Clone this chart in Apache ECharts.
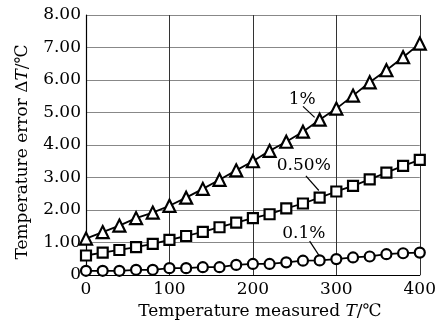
<!DOCTYPE html>
<html>
<head>
<meta charset="utf-8">
<script src="https://cdn.jsdelivr.net/npm/echarts@6/dist/echarts.min.js"></script>
<style>
  html, body { margin: 0; padding: 0; background: #fff; }
  #chart { width: 439px; height: 325px; }
</style>
</head>
<body>
<div id="chart"></div>
<script>
var temps = [0, 20, 40, 60, 80, 100, 120, 140, 160, 180, 200, 220, 240, 260, 280, 300, 320, 340, 360, 380, 400];
var err1 = [1.12, 1.32, 1.52, 1.75, 1.92, 2.13, 2.38, 2.65, 2.93, 3.22, 3.50, 3.82, 4.10, 4.41, 4.78, 5.12, 5.52, 5.93, 6.30, 6.70, 7.12];
var err05 = [0.60, 0.69, 0.77, 0.86, 0.96, 1.08, 1.20, 1.33, 1.47, 1.61, 1.75, 1.87, 2.05, 2.20, 2.38, 2.57, 2.74, 2.94, 3.15, 3.36, 3.54];
var err01 = [0.13, 0.13, 0.13, 0.16, 0.16, 0.21, 0.21, 0.24, 0.24, 0.31, 0.34, 0.34, 0.39, 0.44, 0.45, 0.49, 0.54, 0.57, 0.64, 0.67, 0.69];

// labels with leader lines, in data coordinates
var notes = [
  { text: '1%', at: [259, 5.40], from: [260, 5.19], to: [274, 4.85] },
  { text: '0.50%', at: [261, 3.36], from: [263.5, 3.05], to: [279, 2.60] },
  { text: '0.1%', at: [261, 1.28], from: [268, 1.04], to: [279, 0.61] }
];

var font = 'DejaVu Serif, serif';
var fs = 17;

function pairs(ys) {
  return temps.map(function (t, i) { return [t, ys[i]]; });
}

function lineSeries(name, ys, symbol, size) {
  return {
    name: name,
    type: 'line',
    data: pairs(ys),
    symbol: symbol,
    symbolSize: size,
    showAllSymbol: true,
    lineStyle: { color: '#000', width: 1.8 },
    itemStyle: { color: '#fff', borderColor: '#000', borderWidth: 2.2 },
    z: 3
  };
}

function nameStyle(pad) {
  return {
    fontFamily: font, fontSize: fs, color: '#000', padding: pad,
    rich: { i: { fontFamily: font, fontSize: fs, fontStyle: 'italic', color: '#000' } }
  };
}

var myChart = echarts.init(document.getElementById('chart'));
var option = {
  animation: false,
  grid: { left: 86, right: 16, top: 15, bottom: 48 },
  xAxis: {
    type: 'value',
    min: 0, max: 400, interval: 100,
    name: 'Temperature measured {i|T}/℃',
    nameLocation: 'middle',
    nameGap: 28,
    nameTextStyle: nameStyle([0, 0, 0, 14]),
    axisLine: { lineStyle: { color: '#000', width: 1.2 } },
    axisTick: { show: false },
    axisLabel: { fontFamily: font, fontSize: fs, color: '#000', margin: 6 },
    splitLine: { show: true, lineStyle: { color: '#333', width: 1 } }
  },
  yAxis: {
    type: 'value',
    min: 0, max: 8, interval: 1,
    name: 'Temperature error Δ{i|T}/℃',
    nameLocation: 'middle',
    nameRotate: 90,
    nameGap: 55,
    nameTextStyle: nameStyle([0, 14, 0, 0]),
    axisLine: { show: true, lineStyle: { color: '#000', width: 1.2 } },
    axisTick: { show: false },
    axisLabel: {
      fontFamily: font, fontSize: fs, color: '#000', margin: 5,
      formatter: function (v) { return v === 0 ? '0' : v.toFixed(2); }
    },
    splitLine: { show: true, lineStyle: { color: '#888', width: 1 } }
  },
  series: [
    lineSeries('1%', err1, 'triangle', 12),
    lineSeries('0.50%', err05, 'rect', 10),
    lineSeries('0.1%', err01, 'circle', 10)
  ]
};
myChart.setOption(option);

// annotation texts and leader lines
var g = [];
notes.forEach(function (n) {
  var p = myChart.convertToPixel({ gridIndex: 0 }, n.at);
  var a = myChart.convertToPixel({ gridIndex: 0 }, n.from);
  var b = myChart.convertToPixel({ gridIndex: 0 }, n.to);
  g.push({
    type: 'text', x: p[0], y: p[1], z: 10,
    style: { text: n.text, fontFamily: font, fontSize: fs, fill: '#000', align: 'center', verticalAlign: 'middle' }
  });
  g.push({
    type: 'line', z: 10,
    shape: { x1: a[0], y1: a[1], x2: b[0], y2: b[1] },
    style: { stroke: '#000', lineWidth: 1.2 }
  });
});
myChart.setOption({ graphic: g });
</script>
</body>
</html>
